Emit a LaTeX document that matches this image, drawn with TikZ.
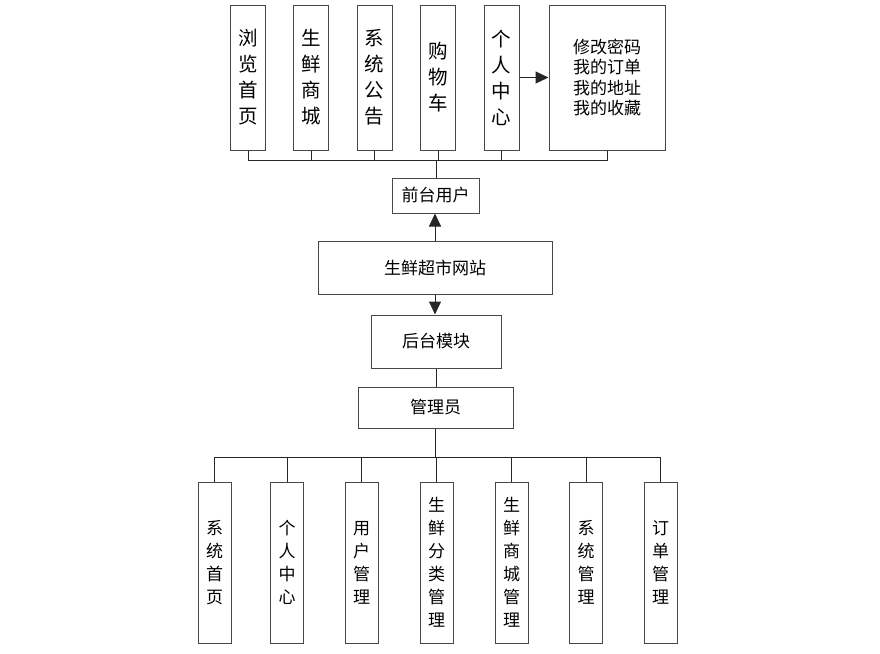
\documentclass[tikz,border=0pt]{standalone}
\usepackage{fontspec}
\newfontfamily\cjk{Noto Sans CJK SC}
\usetikzlibrary{arrows.meta}
\begin{document}
\begin{tikzpicture}[x=1pt,y=-1pt,
  box/.style={draw=black!72,line width=1pt,inner sep=0pt,align=center,fill=white},
  vtop/.style={box,minimum width=35pt,minimum height=145pt,font=\cjk\fontsize{19.5}{26}\selectfont},
  vbot/.style={box,minimum width=33pt,minimum height=161pt,font=\cjk\fontsize{17}{23}\selectfont},
  hbox/.style={box,font=\cjk\fontsize{17}{20.5}\selectfont},
  conn/.style={draw=black!85,line width=1pt},
  arr/.style={conn,-{Triangle[length=13pt,width=12pt]}}]
\useasboundingbox (0,0) rectangle (880,653);
% top row
\node[vtop] (t1) at (248,77.5) {浏\\览\\首\\页};
\node[vtop] (t2) at (311,77.5) {生\\鲜\\商\\城};
\node[vtop] (t3) at (374.5,77.5) {系\\统\\公\\告};
\node[vtop] (t4) at (438,77.5) {购\\物\\车};
\node[vtop] (t5) at (501.5,77.5) {个\\人\\中\\心};
\node[hbox,minimum width=116pt,minimum height=145pt] (big) at (607,77.5) {修改密码\\我的订单\\我的地址\\我的收藏};
% middle
\node[hbox,minimum width=87pt,minimum height=35pt] (fu) at (435.5,195.5) {前台用户};
\node[hbox,minimum width=234pt,minimum height=53pt] (web) at (435,267.5) {生鲜超市网站};
\node[hbox,minimum width=130pt,minimum height=53pt] (ht) at (436,341.5) {后台模块};
\node[hbox,minimum width=155pt,minimum height=41pt] (gl) at (435.5,407.5) {管理员};
% bottom row
\node[vbot] (b1) at (214.5,562.5) {系\\统\\首\\页};
\node[vbot] (b2) at (287,562.5) {个\\人\\中\\心};
\node[vbot] (b3) at (361.5,562.5) {用\\户\\管\\理};
\node[vbot] (b4) at (436.5,562.5) {生\\鲜\\分\\类\\管\\理};
\node[vbot] (b5) at (511.5,562.5) {生\\鲜\\商\\城\\管\\理};
\node[vbot] (b6) at (586,562.5) {系\\统\\管\\理};
\node[vbot] (b7) at (660.5,562.5) {订\\单\\管\\理};
% top bus
\coordinate (tb) at (436,160);
\draw[conn] (t1.south) -- (t1.south |- tb) -- (big.south |- tb) -- (big.south);
\foreach \n in {t2,t3,t4,t5} \draw[conn] (\n.south) -- (\n.south |- tb);
\draw[conn] (tb) -- (tb |- fu.north);
\draw[arr] (t5.east) -- (big.west);
\draw[arr] (web.north) -- (web.north |- fu.south);
\draw[arr] (web.south) -- (web.south |- ht.north);
\draw[conn] (ht.south) -- (ht.south |- gl.north);
% bottom bus
\coordinate (bb) at (436,457);
\draw[conn] (gl.south) -- (gl.south |- bb);
\draw[conn] (b1.north) -- (b1.north |- bb) -- (b7.north |- bb) -- (b7.north);
\foreach \n in {b2,b3,b4,b5,b6} \draw[conn] (\n.north) -- (\n.north |- bb);
\end{tikzpicture}
\end{document}
